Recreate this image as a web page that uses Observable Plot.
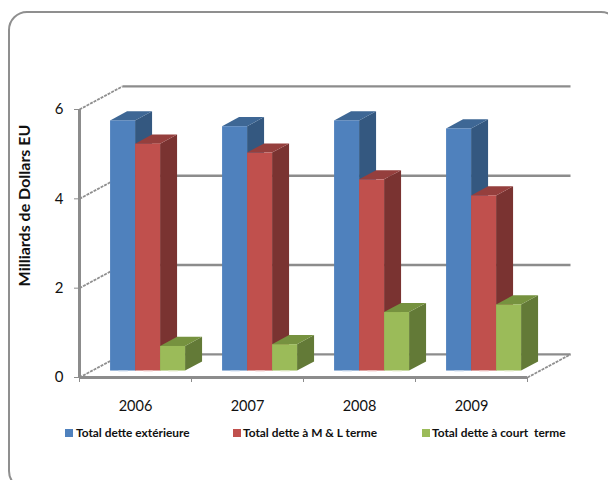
<!DOCTYPE html>
<html lang="fr">
<head>
<meta charset="utf-8">
<script src="https://cdn.jsdelivr.net/npm/d3@7"></script>
<script src="https://cdn.jsdelivr.net/npm/@observablehq/plot@0.6"></script>
<style>
  html, body { margin: 0; padding: 0; background: #fff; overflow: hidden; }
  #stage { position: relative; width: 608px; height: 480px; overflow: hidden; font-family: Lato, "Noto Sans", sans-serif; }
  #card { position: absolute; left: 8px; top: 11px; width: 612px; height: 479px; border: 2px solid #8f8f8f; border-radius: 19px; box-sizing: border-box; }
  #chart { position: absolute; left: 0; top: 0; }
  #legend { position: absolute; left: 0; top: 426px; width: 608px; height: 14px; font-size: 11.9px; font-weight: 700; color: #111; }
  #legend span { position: absolute; top: 0; white-space: pre; line-height: 14px; }
  #legend i { position: absolute; top: 3px; width: 8px; height: 8px; }
</style>
</head>
<body>
<div id="stage">
  <div id="card"></div>
  <div id="chart"></div>
  <div id="legend"></div>
</div>
<script>
// --- Data
const years = ["2006", "2007", "2008", "2009"];
const seriesNames = ["Total dette extérieure", "Total dette à M & L terme", "Total dette à court  terme"];
const exterieure = [5.60, 5.47, 5.60, 5.42];
const moyenLong = [5.08, 4.88, 4.28, 3.92];
const court = [0.55, 0.59, 1.31, 1.48];
const yTicks = [0, 2, 4, 6];
const yTitle = "Milliards de Dollars EU";

// --- Style
const frontColors = ["#4f81bd", "#c0504d", "#9bbb59"];
const sideColors = ["#345880", "#7a3331", "#637a37"];
const topColors = ["#3e6795", "#953f3d", "#76923f"];
const baseColors = ["#d5dfee", "#f2d5d5", "#e8edd5"];
const legendX = [[65, 76], [233, 243], [422, 432]];
const wallColor = "#8c8c8c";

// --- Oblique projection, expressed in scale units
const floorDx = 0.384, floorDy = 0.517;   // floor depth in x units and y units
const barDepthStart = 0.28, barDepthEnd = 0.675;
const gap = 0.17, barW = 0.2232;
const proj = (x, y, d) => [x + d * floorDx, y + d * floorDy];

const values = [exterieure, moyenLong, court];

const barMarks = values.flatMap((vals, s) => {
  const rows = vals.map((v, i) => {
    const x0 = i + gap + s * barW;
    return {i, v, x0, x1: x0 + barW};
  });
  const faces = rows.flatMap(r => {
    const edge = (id, xa, ya, xb, yb, fill) => [0, 1].map(t => {
      const p = proj(t ? xb : xa, t ? yb : ya, barDepthStart);
      const q = proj(t ? xb : xa, t ? yb : ya, barDepthEnd);
      return {id, fill, x1: p[0], y1: p[1], x2: q[0], y2: q[1]};
    });
    return [
      ...edge(`s${s}-${r.i}-side`, r.x1, 0, r.x1, r.v, sideColors[s]),
      ...edge(`s${s}-${r.i}-top`, r.x0, r.v, r.x1, r.v, topColors[s])
    ];
  });
  return [
    Plot.area(faces, {x1: "x1", y1: "y1", x2: "x2", y2: "y2", z: "id", fill: "fill", curve: "linear"}),
    Plot.rect(rows, {
      x1: r => proj(r.x0, 0, barDepthStart)[0],
      x2: r => proj(r.x1, 0, barDepthStart)[0],
      y1: () => proj(0, 0, barDepthStart)[1],
      y2: r => proj(0, r.v, barDepthStart)[1],
      fill: frontColors[s]
    }),
    Plot.link(rows, {
      x1: r => proj(r.x0 + 0.07, 0, barDepthStart)[0],
      x2: r => proj(r.x1 - 0.07, 0, barDepthStart)[0],
      y1: () => proj(0, 0, barDepthStart)[1],
      y2: () => proj(0, 0, barDepthStart)[1],
      stroke: baseColors[s], strokeWidth: 1
    })
  ];
});

const xEnd = years.length;
const chart = Plot.plot({
  width: 608,
  height: 480,
  marginLeft: 79,
  marginRight: 81,
  marginTop: 109,
  marginBottom: 103,
  style: {background: "transparent", fontFamily: "Lato, 'Noto Sans', sans-serif"},
  x: {type: "linear", domain: [0, xEnd], axis: null},
  y: {type: "linear", domain: [0, 6], axis: null},
  color: {type: "identity"},
  marks: [
    // oblique grid lines on the left wall
    Plot.link(yTicks, {
      x1: 0, y1: d => d,
      x2: () => proj(0, 0, 1)[0], y2: d => proj(0, d, 1)[1],
      stroke: "#8f8f8f", strokeWidth: 1.8, strokeDasharray: "3 1"
    }),
    // back-wall lines
    Plot.link(yTicks, {
      x1: () => proj(0, 0, 1)[0], y1: d => proj(0, d, 1)[1],
      x2: () => proj(xEnd, 0, 1)[0], y2: d => proj(0, d, 1)[1],
      stroke: wallColor, strokeWidth: 2.4
    }),
    // floor right edge
    Plot.link([0], {
      x1: xEnd, y1: 0,
      x2: () => proj(xEnd, 0, 1)[0], y2: () => proj(0, 0, 1)[1],
      stroke: "#8f8f8f", strokeWidth: 1.8, strokeDasharray: "3 1"
    }),
    ...barMarks,
    // front floor line and left wall axis
    Plot.ruleY([0], {stroke: wallColor, strokeWidth: 3}),
    Plot.ruleX([0], {stroke: wallColor, strokeWidth: 3}),
    Plot.axisY({
      anchor: "left", ticks: yTicks, tickFormat: d => String(d),
      tickSize: 5, tickPadding: 11, stroke: wallColor, fill: "#111",
      fontSize: 15, label: null
    }),
    Plot.axisX({
      anchor: "bottom", ticks: d3.range(xEnd + 1), tickFormat: () => "",
      tickSize: 5, stroke: wallColor, label: null
    }),
    Plot.axisX({
      anchor: "bottom", ticks: years.map((_, i) => i + 0.5), tickFormat: d => years[d - 0.5],
      tickSize: 0, tickPadding: 23, fill: "#111", fontSize: 14.5, label: null
    }),
    // y axis title, placed in the left margin
    Plot.text([yTitle], {
      frameAnchor: "left", text: d => d, dx: -55, dy: -38,
      rotate: -90, textAnchor: "middle", fontSize: 16, fontWeight: 700, fill: "#111"
    })
  ]
});
document.getElementById("chart").append(chart);

const legend = document.getElementById("legend");
seriesNames.forEach((name, s) => {
  const sw = document.createElement("i");
  sw.style.left = legendX[s][0] + "px";
  sw.style.background = frontColors[s];
  const t = document.createElement("span");
  t.style.left = legendX[s][1] + "px";
  t.textContent = name;
  legend.append(sw, t);
});
</script>
</body>
</html>
